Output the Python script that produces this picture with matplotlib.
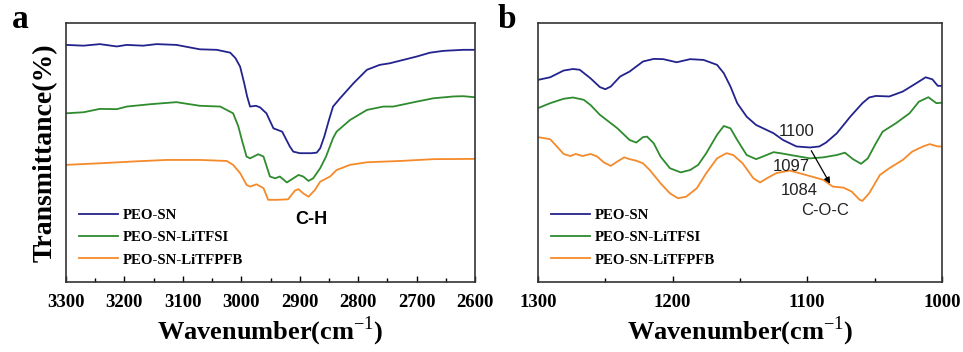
import matplotlib.pyplot as plt
from matplotlib.ticker import MultipleLocator

plt.rcParams["mathtext.fontset"] = "custom"
plt.rcParams["mathtext.rm"] = "Liberation Serif"
plt.rcParams["mathtext.bf"] = "Liberation Serif:bold"

# ---- panel a : C-H stretching region ----
a_wn_blue = [3300, 3270, 3242, 3213, 3196, 3168, 3145, 3111, 3071, 3042, 3019, 3010, 3002,
             2995, 2990, 2985, 2975, 2968, 2957, 2945, 2938, 2930, 2917, 2911, 2900, 2880,
             2871, 2865, 2858, 2850, 2843, 2831, 2808, 2785, 2763, 2746, 2700, 2677, 2654,
             2620, 2600]
a_t_blue = [91.5, 91.2, 91.8, 90.9, 91.5, 91.2, 91.8, 91.5, 89.8, 89.6, 88.5, 86.4, 83.1,
            76.7, 71.6, 67.7, 68.0, 67.4, 65.1, 59.3, 58.7, 58.0, 52.3, 50.3, 49.7, 49.7,
            49.9, 51.6, 56.1, 62.5, 67.7, 70.9, 76.7, 81.9, 83.8, 84.4, 87.0, 88.5, 89.2,
            89.6, 89.6]

a_wn_green = [3300, 3270, 3242, 3213, 3196, 3156, 3111, 3071, 3036, 3014, 3005, 2999, 2991,
              2985, 2971, 2962, 2951, 2942, 2934, 2922, 2911, 2902, 2894, 2885, 2877, 2865,
              2855, 2843, 2837, 2814, 2785, 2757, 2740, 2700, 2671, 2637, 2620, 2600]
a_t_green = [65.1, 65.5, 66.8, 66.7, 67.7, 68.6, 69.4, 68.0, 67.7, 65.1, 60.0, 54.8, 48.4,
             47.7, 49.3, 48.4, 40.7, 40.0, 40.7, 38.4, 40.0, 41.3, 40.7, 39.0, 40.0, 43.9,
             48.4, 55.5, 58.0, 62.5, 66.4, 67.7, 67.7, 69.6, 70.9, 71.6, 71.7, 71.3]

a_wn_orange = [3300, 3242, 3185, 3128, 3071, 3025, 3014, 3002, 2991, 2985, 2974, 2962, 2954,
               2939, 2920, 2908, 2902, 2894, 2885, 2874, 2865, 2848, 2837, 2814, 2785, 2728,
               2671, 2600]
a_t_orange = [45.2, 45.8, 46.5, 47.1, 47.1, 46.7, 45.2, 42.0, 37.5, 36.8, 37.7, 36.2, 31.7,
              31.7, 31.9, 35.3, 35.8, 34.2, 32.9, 35.5, 38.7, 40.7, 43.2, 45.2, 46.2, 46.7,
              47.4, 47.5]

# ---- panel b : C-O-C region ----
b_wn_blue = [1300, 1291, 1281, 1274, 1269, 1261, 1254, 1250, 1246, 1239, 1232, 1222, 1214,
             1207, 1197, 1187, 1177, 1167, 1162, 1157, 1152, 1145, 1138, 1125, 1118, 1108,
             1098, 1091, 1086, 1078, 1068, 1059, 1054, 1049, 1039, 1029, 1019, 1012, 1007,
             1003, 1000]
b_t_blue = [78.0, 79.0, 81.6, 82.2, 81.9, 78.6, 75.2, 74.4, 75.4, 79.3, 81.2, 85.1, 86.1,
            86.0, 84.8, 86.0, 85.7, 83.8, 80.6, 75.4, 69.0, 63.8, 60.6, 57.4, 54.8, 52.3,
            51.9, 52.3, 53.8, 57.4, 63.8, 69.0, 71.2, 71.8, 71.6, 73.5, 76.7, 79.0, 78.2,
            75.7, 75.7]

b_wn_green = [1300, 1291, 1281, 1274, 1266, 1261, 1254, 1241, 1232, 1227, 1222, 1219, 1214,
              1209, 1202, 1194, 1187, 1181, 1175, 1167, 1162, 1157, 1152, 1145, 1138, 1133,
              1125, 1120, 1108, 1098, 1088, 1078, 1072, 1066, 1060, 1055, 1049, 1044, 1034,
              1024, 1017, 1010, 1004, 1000]
b_t_green = [67.1, 69.0, 70.7, 71.2, 70.3, 68.3, 64.5, 59.3, 54.8, 53.8, 55.9, 56.1, 53.5,
             48.4, 43.9, 42.3, 43.2, 45.2, 49.7, 56.8, 60.2, 59.3, 54.8, 49.0, 47.4, 48.4,
             50.1, 49.7, 48.6, 47.7, 48.1, 49.0, 49.9, 47.4, 45.6, 47.7, 53.5, 58.0, 61.3,
             65.1, 69.6, 71.3, 69.0, 69.2]

b_wn_orange = [1300, 1291, 1286, 1281, 1276, 1272, 1267, 1261, 1256, 1251, 1246, 1241, 1236,
               1232, 1227, 1222, 1217, 1209, 1202, 1196, 1190, 1182, 1175, 1167, 1160, 1155,
               1148, 1140, 1135, 1130, 1123, 1113, 1101, 1088, 1081, 1073, 1067, 1061, 1059,
               1054, 1046, 1039, 1029, 1022, 1014, 1009, 1003, 1000]
b_t_orange = [55.9, 55.1, 52.3, 49.4, 48.6, 49.4, 48.6, 49.4, 48.4, 46.1, 44.8, 46.5, 48.1,
              47.4, 46.8, 45.8, 43.2, 38.1, 34.2, 32.3, 32.9, 36.2, 42.0, 47.7, 49.7, 49.0,
              45.8, 40.0, 38.4, 40.0, 42.0, 43.0, 41.3, 39.4, 36.8, 36.4, 34.9, 31.7, 31.3,
              34.2, 41.3, 43.9, 47.1, 50.3, 52.3, 53.2, 52.3, 52.3]

labels = ["PEO-SN", "PEO-SN-LiTFSI", "PEO-SN-LiTFPFB"]
colors = ["#23238e", "#2e8b2e", "#f58a2a"]

serif = "Liberation Serif"
sans = "Liberation Sans"

fig = plt.figure(figsize=(9.63, 3.52), dpi=100)
ax_a = fig.add_axes([0.0685, 0.199, 0.4248, 0.736])
ax_b = fig.add_axes([0.5587, 0.199, 0.4193, 0.736])

series_a = [(a_wn_blue, a_t_blue), (a_wn_green, a_t_green), (a_wn_orange, a_t_orange)]
series_b = [(b_wn_blue, b_t_blue), (b_wn_green, b_t_green), (b_wn_orange, b_t_orange)]

for ax, series, xlim in [(ax_a, series_a, (3300, 2600)), (ax_b, series_b, (1300, 1000))]:
    for (wn, t), c, lab in zip(series, colors, labels):
        ax.plot(wn, t, color=c, lw=1.3, label=lab)
    ax.set_xlim(*xlim)
    ax.set_ylim(0, 100)
    ax.set_yticks([])
    ax.xaxis.set_major_locator(MultipleLocator(100))
    ax.xaxis.set_minor_locator(MultipleLocator(50))
    ax.tick_params(axis="x", which="both", direction="in", length=4, width=1.0, pad=9)
    ax.tick_params(axis="x", which="minor", length=3)
    for lbl in ax.get_xticklabels():
        lbl.set_fontfamily(serif)
        lbl.set_fontweight("bold")
        lbl.set_fontsize(13.5)
    for sp in ax.spines.values():
        sp.set_linewidth(1.2)
        sp.set_color("#333333")
    ax.set_xlabel("Wavenumber(cm$^{\\mathrm{-1}}$)", family=serif, fontweight="bold",
                  fontsize=19, labelpad=2)
    ax.legend(loc="lower left", bbox_to_anchor=(0.0, 0.008), frameon=False,
              prop={"family": serif, "weight": "bold", "size": 10.7},
              handlelength=2.6, labelspacing=0.6, handletextpad=0.35)

ax_a.set_ylabel("Transmittance(%)", family=serif, fontweight="bold", fontsize=20, labelpad=6)

ax_a.text(2880, 24, "C-H", family=sans, fontweight="bold", fontsize=13, ha="center", va="center")

ax_b.text(1108, 58, "1100", family=sans, fontsize=12, ha="center", va="center", color="#222222")
ax_b.text(1112, 44.5, "1097", family=sans, fontsize=12, ha="center", va="center", color="#222222")
ax_b.text(1106, 35.3, "1084", family=sans, fontsize=12, ha="center", va="center", color="#222222")
ax_b.text(1087, 27.5, "C-O-C", family=sans, fontsize=12, ha="center", va="center", color="#222222")
ax_b.annotate("", xy=(1082, 37.0), xytext=(1098, 51.6),
              arrowprops=dict(arrowstyle="-|>", color="black", lw=0.9, mutation_scale=9))

fig.text(0.012, 0.92, "a", family=serif, fontweight="bold", fontsize=24)
fig.text(0.517, 0.92, "b", family=serif, fontweight="bold", fontsize=24)

fig.savefig("out.png", dpi=100)
